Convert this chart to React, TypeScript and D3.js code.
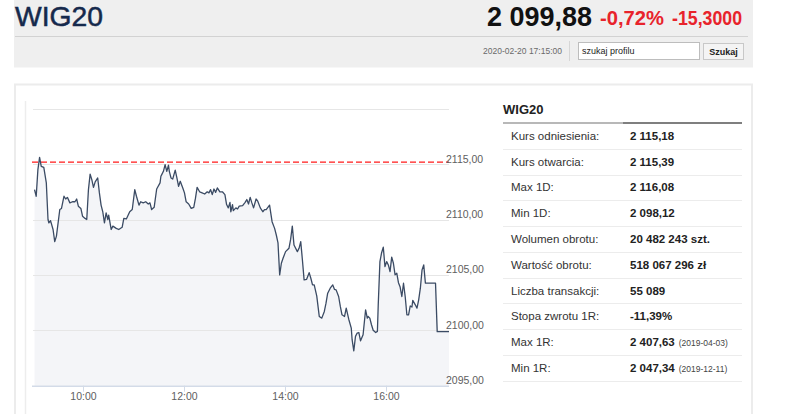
import React, { useEffect, useRef } from 'react';
import * as d3 from 'd3';

// intraday quotes
const prices: [string, number][] = [
  ['09:03', 2112.7], ['09:05', 2112.1], ['09:07', 2114.5], ['09:09', 2115.6], ['09:11', 2114.8],
  ['09:14', 2114.7], ['09:17', 2113.3], ['09:19', 2110.0], ['09:20', 2109.7], ['09:22', 2109.9],
  ['09:25', 2109.1], ['09:27', 2108.0], ['09:29', 2108.5], ['09:33', 2110.9], ['09:35', 2111.0],
  ['09:38', 2112.1], ['09:40', 2111.85], ['09:42', 2112.0], ['09:45', 2111.5], ['09:48', 2111.6],
  ['09:51', 2111.6], ['09:53', 2111.85], ['09:55', 2111.2], ['09:58', 2111.0], ['10:00', 2110.3],
  ['10:03', 2110.1], ['10:05', 2110.0], ['10:07', 2112.7], ['10:09', 2114.1], ['10:11', 2113.6],
  ['10:13', 2112.9], ['10:15', 2113.4], ['10:18', 2113.75], ['10:20', 2112.4], ['10:22', 2111.3],
  ['10:24', 2110.7], ['10:26', 2109.7], ['10:28', 2110.6], ['10:30', 2110.0], ['10:31', 2110.4],
  ['10:34', 2109.1], ['10:36', 2109.4], ['10:40', 2109.2], ['10:43', 2109.1], ['10:47', 2109.3],
  ['10:49', 2110.1], ['10:52', 2110.05], ['10:56', 2110.7], ['10:59', 2110.9], ['11:02', 2112.7],
  ['11:04', 2112.1], ['11:07', 2111.3], ['11:09', 2111.6], ['11:12', 2111.5], ['11:15', 2111.6],
  ['11:18', 2111.4], ['11:20', 2111.5], ['11:22', 2110.9], ['11:25', 2111.1], ['11:28', 2112.75],
  ['11:32', 2113.3], ['11:33', 2113.9], ['11:34', 2114.05], ['11:36', 2114.35], ['11:38', 2114.95],
  ['11:40', 2114.35], ['11:42', 2114.9], ['11:43', 2114.35], ['11:45', 2113.75], ['11:47', 2113.65],
  ['11:50', 2114.45], ['11:52', 2113.75], ['11:54', 2113.0], ['11:56', 2113.45], ['11:59', 2112.85],
  ['12:01', 2112.4], ['12:03', 2111.6], ['12:06', 2111.4], ['12:09', 2111.0], ['12:12', 2111.1],
  ['12:14', 2111.9], ['12:16', 2112.9], ['12:19', 2112.5], ['12:22', 2112.4], ['12:25', 2112.3],
  ['12:28', 2112.5], ['12:30', 2112.4], ['12:32', 2112.7], ['12:34', 2112.25], ['12:36', 2112.75],
  ['12:38', 2112.45], ['12:40', 2112.85], ['12:43', 2112.5], ['12:46', 2112.5], ['12:49', 2112.25],
  ['12:51', 2111.35], ['12:53', 2111.05], ['12:55', 2111.55], ['12:56', 2110.7], ['12:58', 2111.35],
  ['12:59', 2110.8], ['13:02', 2111.05], ['13:04', 2110.95], ['13:06', 2111.2], ['13:10', 2111.25],
  ['13:13', 2111.55], ['13:15', 2111.8], ['13:17', 2111.4], ['13:19', 2112.0], ['13:21', 2111.5],
  ['13:23', 2111.05], ['13:26', 2111.85], ['13:28', 2111.65], ['13:31', 2111.05], ['13:34', 2110.7],
  ['13:36', 2110.9], ['13:38', 2110.9], ['13:40', 2111.1], ['13:42', 2111.3], ['13:45', 2109.8],
  ['13:48', 2109.2], ['13:50', 2108.6], ['13:52', 2107.9], ['13:54', 2105.0], ['13:56', 2106.05],
  ['13:58', 2106.5], ['14:01', 2107.1], ['14:05', 2107.4], ['14:07', 2108.2], ['14:09', 2109.4],
  ['14:11', 2107.7], ['14:15', 2107.1], ['14:17', 2107.4], ['14:19', 2108.0], ['14:21', 2106.35],
  ['14:23', 2104.55], ['14:26', 2104.6], ['14:29', 2105.2], ['14:31', 2104.7], ['14:33', 2104.1],
  ['14:35', 2104.1], ['14:38', 2103.1], ['14:41', 2101.25], ['14:44', 2101.1], ['14:47', 2101.7],
  ['14:49', 2102.45], ['14:51', 2103.35], ['14:54', 2103.8], ['14:57', 2104.1], ['14:59', 2103.7],
  ['15:01', 2103.65], ['15:04', 2103.05], ['15:06', 2102.15], ['15:08', 2101.4], ['15:11', 2101.25],
  ['15:13', 2102.0], ['15:16', 2101.0], ['15:19', 2100.2], ['15:20', 2099.15], ['15:22', 2098.15],
  ['15:24', 2099.45], ['15:26', 2099.75], ['15:28', 2099.8], ['15:30', 2099.05], ['15:33', 2099.6],
  ['15:36', 2101.85], ['15:38', 2101.1], ['15:39', 2101.25], ['15:41', 2101.1], ['15:43', 2100.5],
  ['15:45', 2100.0], ['15:48', 2099.8], ['15:50', 2099.9], ['15:51', 2102.3], ['15:53', 2106.2],
  ['15:55', 2107.0], ['15:57', 2107.5], ['15:59', 2105.75], ['16:01', 2106.2], ['16:03', 2105.9],
  ['16:05', 2105.3], ['16:07', 2106.6], ['16:09', 2106.05], ['16:11', 2105.0], ['16:13', 2105.15],
  ['16:15', 2104.3], ['16:17', 2103.9], ['16:19', 2103.05], ['16:21', 2104.25], ['16:23', 2103.05],
  ['16:25', 2101.4], ['16:27', 2101.4], ['16:29', 2102.2], ['16:31', 2102.1], ['16:32', 2102.7],
  ['16:35', 2102.3], ['16:37', 2102.0], ['16:39', 2102.75], ['16:41', 2103.8], ['16:43', 2105.45],
  ['16:45', 2105.9], ['16:47', 2104.25], ['16:59', 2104.25], ['17:01', 2099.88], ['17:15', 2099.88],
];

const referenceLevel = 2115.18;
const yTicks = [2095, 2100, 2105, 2110, 2115, 2120];
const xTicks = ['10:00', '12:00', '14:00', '16:00'];
const sessionStart = '09:00';
const sessionEnd = '17:15';

const tableLabels = [
  'Kurs odniesienia:', 'Kurs otwarcia:', 'Max 1D:', 'Min 1D:', 'Wolumen obrotu:',
  'Wartość obrotu:', 'Liczba transakcji:', 'Stopa zwrotu 1R:', 'Max 1R:', 'Min 1R:',
];
const tableValues = [
  '2 115,18', '2 115,39', '2 116,08', '2 098,12', '20 482 243 szt.',
  '518 067 296 zł', '55 089', '-11,39%', '2 407,63', '2 047,34',
];
const tableDates = ['', '', '', '', '', '', '', '', '(2019-04-03)', '(2019-12-11)'];

const FONT = '"Liberation Sans", Arial, sans-serif';

const App: React.FC = () => {
  const svgRef = useRef<SVGSVGElement>(null);

  useEffect(() => {
    if (!svgRef.current) return;
    const svg = d3.select(svgRef.current);
    svg.selectAll('*').remove();

    const parse = d3.timeParse('%H:%M');
    const data = prices.map(([t, v]) => ({ t: parse(t) as Date, v }));

    // header bar
    svg.append('rect').attr('x', 14).attr('y', 0).attr('width', 739).attr('height', 67.5).attr('fill', '#efefef');
    svg.append('line').attr('x1', 15).attr('x2', 748).attr('y1', 36.5).attr('y2', 36.5).attr('stroke', '#d2d2d2');

    svg.append('text').attr('x', 15).attr('y', 26).attr('font-family', FONT).attr('font-size', 28)
      .attr('fill', '#15294c').attr('stroke', '#15294c').attr('stroke-width', 0.5)
      .attr('textLength', 88).attr('lengthAdjust', 'spacingAndGlyphs').text('WIG20');
    svg.append('text').attr('x', 487).attr('y', 26).attr('font-family', FONT).attr('font-size', 28)
      .attr('font-weight', 'bold').attr('fill', '#111').attr('textLength', 105)
      .attr('lengthAdjust', 'spacingAndGlyphs').text('2 099,88');
    svg.append('text').attr('x', 600).attr('y', 25).attr('font-family', FONT).attr('font-size', 21)
      .attr('font-weight', 'bold').attr('fill', '#e8232b').attr('textLength', 64)
      .attr('lengthAdjust', 'spacingAndGlyphs').text('-0,72%');
    svg.append('text').attr('x', 672).attr('y', 25).attr('font-family', FONT).attr('font-size', 21)
      .attr('font-weight', 'bold').attr('fill', '#e8232b').attr('textLength', 70)
      .attr('lengthAdjust', 'spacingAndGlyphs').text('-15,3000');

    svg.append('text').attr('x', 483).attr('y', 54).attr('font-family', FONT).attr('font-size', 9)
      .attr('fill', '#6a6a6a').attr('textLength', 79).attr('lengthAdjust', 'spacingAndGlyphs')
      .text('2020-02-20 17:15:00');
    svg.append('line').attr('x1', 569.5).attr('x2', 569.5).attr('y1', 41).attr('y2', 61).attr('stroke', '#d6d6d6');
    svg.append('rect').attr('x', 578.5).attr('y', 42.5).attr('width', 121).attr('height', 17)
      .attr('fill', '#fff').attr('stroke', '#bdbdbd');
    svg.append('text').attr('x', 582).attr('y', 54).attr('font-family', FONT).attr('font-size', 9)
      .attr('fill', '#222').text('szukaj profilu');
    svg.append('rect').attr('x', 703.5).attr('y', 43.5).attr('width', 40).attr('height', 16)
      .attr('fill', '#f4f4f4').attr('stroke', '#c8c8c8');
    svg.append('text').attr('x', 723.5).attr('y', 54.5).attr('text-anchor', 'middle').attr('font-family', FONT)
      .attr('font-size', 9).attr('font-weight', 'bold').attr('fill', '#222').text('Szukaj');

    // card
    svg.append('rect').attr('x', 15).attr('y', 84.5).attr('width', 737).attr('height', 340)
      .attr('fill', '#fff').attr('stroke', '#ececec').attr('stroke-width', 2);
    svg.append('line').attr('x1', 25.5).attr('x2', 25.5).attr('y1', 101).attr('y2', 414)
      .attr('stroke', '#ededed').attr('stroke-width', 1.5);

    // chart
    const x = d3.scaleTime().domain([parse(sessionStart) as Date, parse(sessionEnd) as Date]).range([32, 449]);
    const y = d3.scaleLinear().domain([2095, 2120]).range([385.7, 108.7]);

    const area = d3.area<{ t: Date; v: number }>().x(d => x(d.t)).y0(y(2095)).y1(d => y(d.v));
    const line = d3.line<{ t: Date; v: number }>().x(d => x(d.t)).y(d => y(d.v));

    svg.append('path').datum(data).attr('d', area).attr('fill', '#f4f5f8');

    const grid = svg.append('g');
    grid.selectAll('line').data(yTicks.slice(1)).enter().append('line')
      .attr('x1', 33).attr('x2', 449)
      .attr('y1', d => Math.round(y(d)) + 0.5).attr('y2', d => Math.round(y(d)) + 0.5)
      .attr('stroke', '#e6e6e6');

    svg.append('line').attr('x1', 32).attr('x2', 449)
      .attr('y1', y(referenceLevel)).attr('y2', y(referenceLevel))
      .attr('stroke', '#ff1a1a').attr('stroke-width', 1.3).attr('stroke-dasharray', '6,3');

    svg.append('path').datum(data).attr('d', line).attr('fill', 'none')
      .attr('stroke', '#3b4b64').attr('stroke-width', 1.3).attr('stroke-linejoin', 'round');

    // x axis
    svg.append('line').attr('x1', 32).attr('x2', 449).attr('y1', y(2095) + 0.5).attr('y2', y(2095) + 0.5)
      .attr('stroke', '#d3dbe8').attr('stroke-width', 1.5);
    const xg = svg.append('g');
    xTicks.forEach(t => {
      const px = Math.round(x(parse(t) as Date)) + 0.5;
      xg.append('line').attr('x1', px).attr('x2', px).attr('y1', y(2095)).attr('y2', y(2095) + 6)
        .attr('stroke', '#d3dbe8');
      xg.append('text').attr('x', px).attr('y', 400).attr('text-anchor', 'middle')
        .attr('font-family', FONT).attr('font-size', 10.5).attr('fill', '#606060').text(t);
    });

    // y labels (top line has none)
    const fmt = (v: number) => d3.format('.2f')(v).replace('.', ',');
    svg.append('g').selectAll('text').data(yTicks.slice(0, -1)).enter().append('text')
      .attr('x', 446).attr('y', d => y(d) - 1.5)
      .attr('font-family', FONT).attr('font-size', 10.5).attr('fill', '#606060').text(d => fmt(d));

    // side table
    svg.append('text').attr('x', 503).attr('y', 114).attr('font-family', FONT).attr('font-size', 13)
      .attr('font-weight', 'bold').attr('fill', '#222').text('WIG20');
    svg.append('line').attr('x1', 503).attr('x2', 623).attr('y1', 123).attr('y2', 123)
      .attr('stroke', '#a0a0a0').attr('stroke-width', 1.5);
    svg.append('line').attr('x1', 623).attr('x2', 742).attr('y1', 123).attr('y2', 123)
      .attr('stroke', '#555').attr('stroke-width', 1.5);

    const rowH = 25.77;
    const rows = svg.append('g');
    tableLabels.forEach((label, i) => {
      const cy = 123 + rowH * (i + 0.5);
      rows.append('text').attr('x', 511).attr('y', cy + 4).attr('font-family', FONT).attr('font-size', 11.5)
        .attr('fill', '#333').text(label);
      const vt = rows.append('text').attr('x', 630).attr('y', cy + 4).attr('font-family', FONT)
        .attr('font-size', 11.5).attr('font-weight', 'bold').attr('fill', '#222');
      vt.append('tspan').text(tableValues[i]);
      if (tableDates[i]) {
        vt.append('tspan').attr('font-size', 8.5).attr('font-weight', 'normal').attr('fill', '#444')
          .attr('dx', 4).text(tableDates[i]);
      }
      const ly = Math.round(123 + rowH * (i + 1)) + 0.5;
      rows.append('line').attr('x1', 503).attr('x2', 742).attr('y1', ly).attr('y2', ly).attr('stroke', '#ececec');
    });
  }, []);

  return (
    <div style={{ position: 'absolute', left: 0, top: 0, width: 786, height: 414, background: '#fff' }}>
      <svg ref={svgRef} width={786} height={414} style={{ display: 'block' }}></svg>
    </div>
  );
};

export default App;
